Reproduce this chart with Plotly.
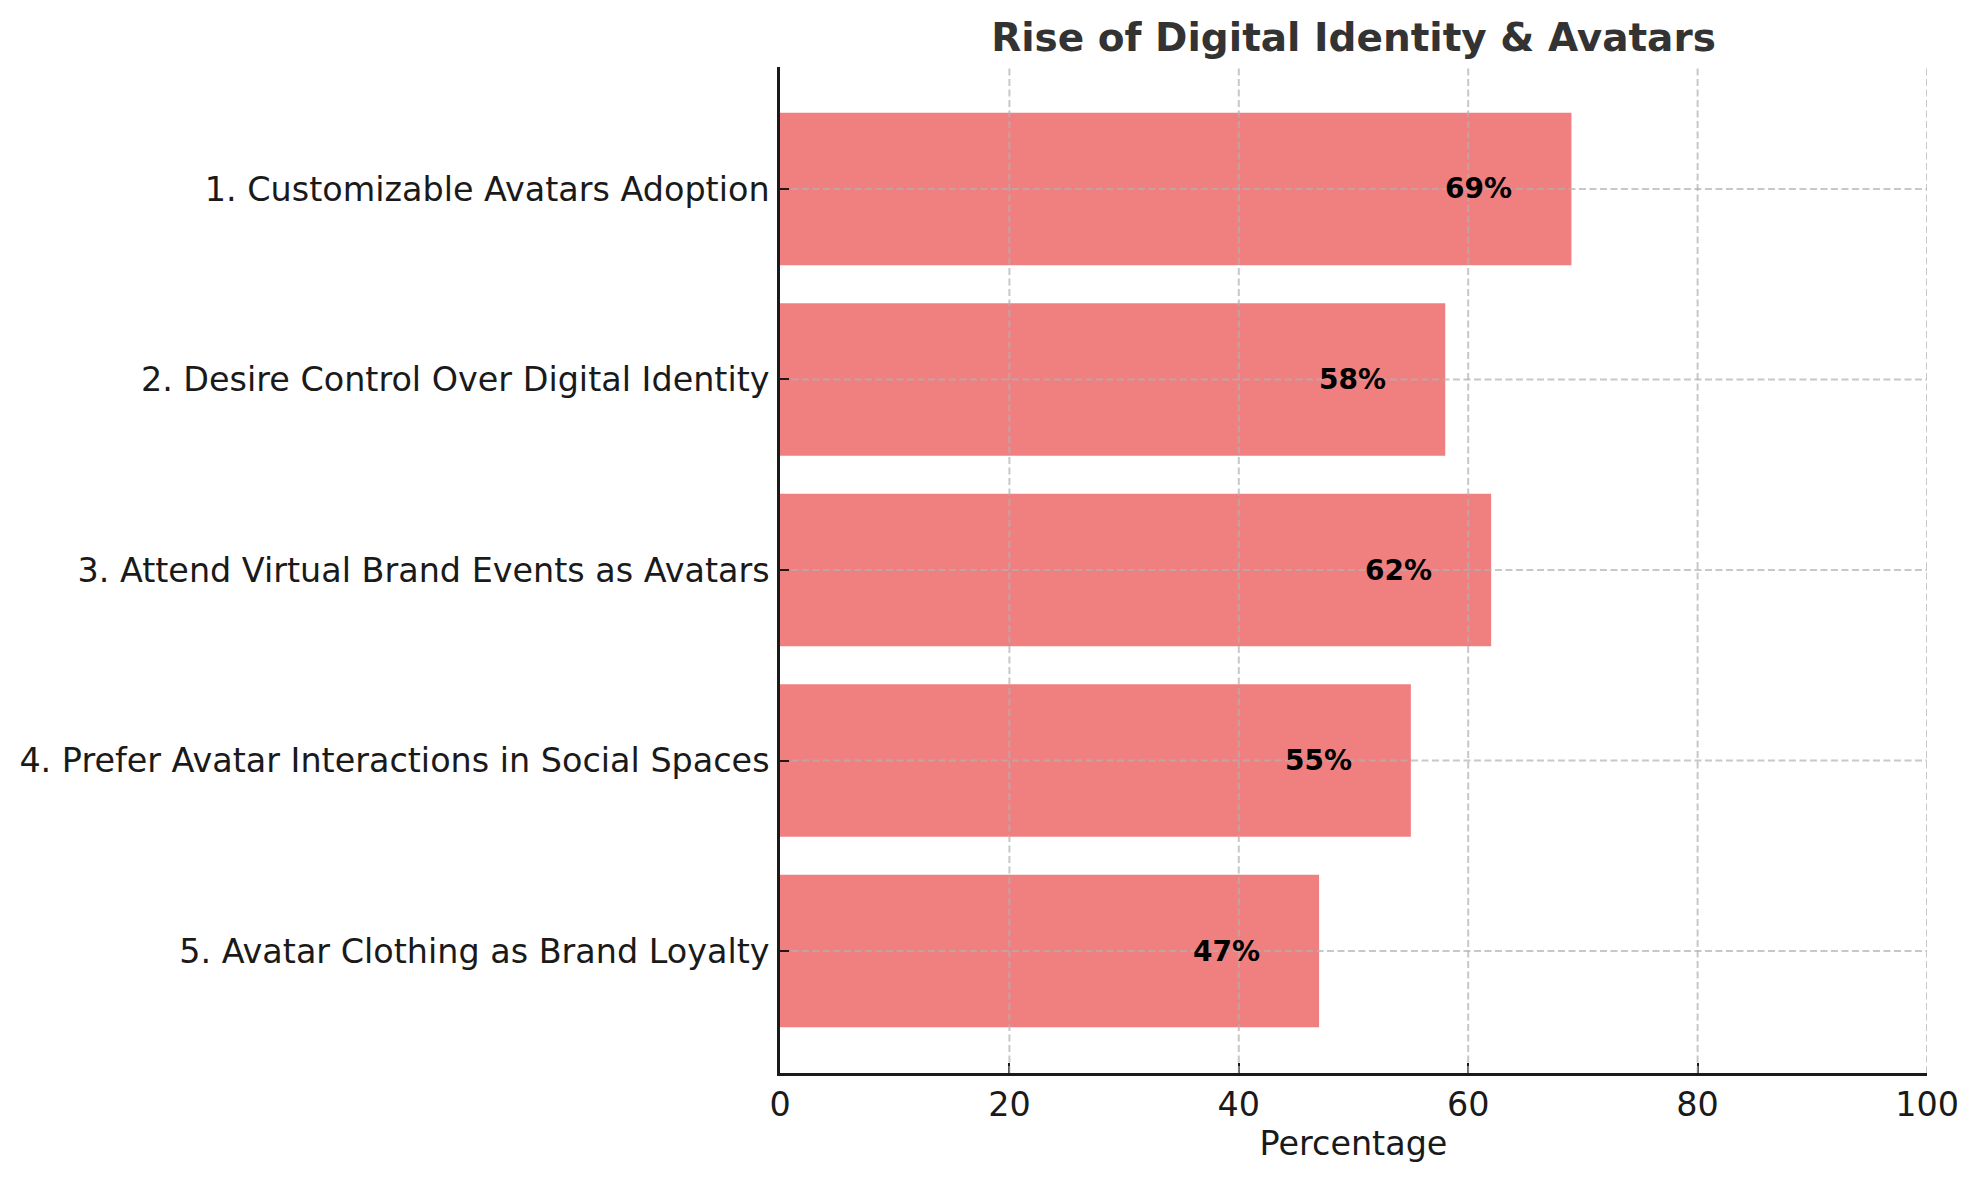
import plotly.graph_objects as go

categories = [
    "1. Customizable Avatars Adoption",
    "2. Desire Control Over Digital Identity",
    "3. Attend Virtual Brand Events as Avatars",
    "4. Prefer Avatar Interactions in Social Spaces",
    "5. Avatar Clothing as Brand Loyalty",
]
values = [69, 58, 62, 55, 47]
x_ticks = [0, 20, 40, 60, 80, 100]
title_text = "Rise of Digital Identity & Avatars"
x_label = "Percentage"

FONT = "DejaVu Sans"
BAR_COLOR = "#F08080"
GRID = "rgba(176,176,176,0.7)"
FS = 33.4

fig = go.Figure()
fig.add_trace(go.Bar(
    x=values, y=categories, orientation="h",
    marker=dict(color=BAR_COLOR, line=dict(width=0)),
    width=0.8, hoverinfo="x+y",
))

shapes = []
for t in x_ticks[1:]:
    shapes.append(dict(type="line", xref="x", yref="paper", x0=t, x1=t, y0=0, y1=1,
                       line=dict(color=GRID, width=2, dash="7px,3.5px"), layer="above"))
for c in categories:
    shapes.append(dict(type="line", xref="x", yref="y", x0=1.0, x1=100, y0=c, y1=c,
                       line=dict(color=GRID, width=2, dash="7px,3.5px"), layer="above"))

annotations = []
for c, v in zip(categories, values):
    annotations.append(dict(x=v - 5, y=c, xref="x", yref="y", text=f"<b>{v}%</b>",
                            showarrow=False, xanchor="right", yanchor="middle",
                            font=dict(family=FONT, size=28, color="black")))

fig.update_layout(
    width=1979, height=1180,
    margin=dict(l=780, r=52, t=67, b=107),
    paper_bgcolor="white", plot_bgcolor="white",
    showlegend=False,
    font=dict(family=FONT, size=FS, color="#1a1a1a"),
    title=dict(text="<b>" + title_text + "</b>", x=0.5, xref="paper", xanchor="center",
               y=1 - 37 / 1180, yref="container", yanchor="middle",
               font=dict(family=FONT, size=39, color="#333333")),
    shapes=shapes,
    annotations=annotations,
    xaxis=dict(range=[0, 100], tickvals=x_ticks, ticks="inside", ticklen=10, tickwidth=2.2,
               tickcolor="#1a1a1a", showline=True, linecolor="#1a1a1a", linewidth=2.5,
               showgrid=False, zeroline=False, layer="above traces",
               tickfont=dict(family=FONT, size=FS, color="#1a1a1a"),
               title=dict(text=x_label, standoff=9, font=dict(family=FONT, size=FS, color="#1a1a1a"))),
    yaxis=dict(type="category", categoryorder="array", categoryarray=categories,
               range=[4.64, -0.64], ticks="inside", ticklen=9, tickwidth=2.2,
               tickcolor="#1a1a1a", showline=True, linecolor="#1a1a1a", linewidth=2.5,
               showgrid=False, zeroline=False, layer="above traces",
               ticklabelstandoff=1,
               tickfont=dict(family=FONT, size=FS, color="#1a1a1a")),
)

fig.write_html("out.html")
